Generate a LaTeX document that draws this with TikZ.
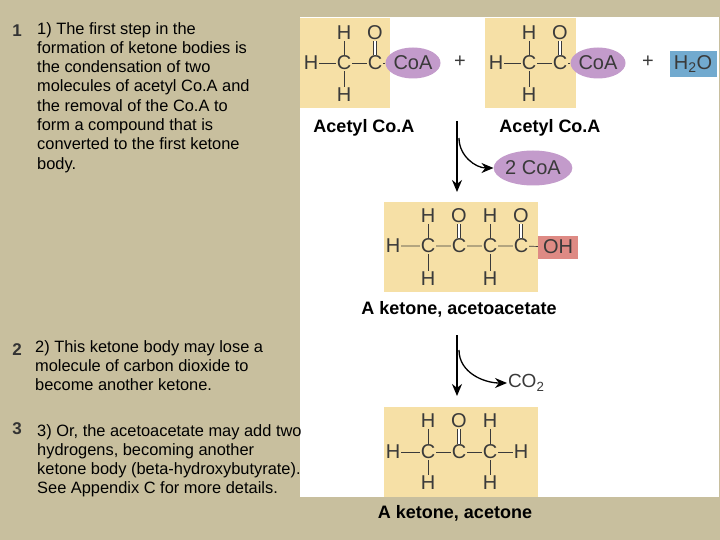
\documentclass[tikz,border=0pt]{standalone}
\usepackage{fontspec}
\setmainfont{Liberation Sans}
\usetikzlibrary{arrows.meta}
\usetikzlibrary{shapes.geometric}
\definecolor{tanbg}{HTML}{C8BF9E}
\definecolor{molbox}{HTML}{F6E0A6}
\definecolor{coapurple}{HTML}{C39BCB}
\definecolor{waterblue}{HTML}{72AACF}
\definecolor{ohred}{HTML}{DE8A84}
\definecolor{atomgray}{HTML}{3A3A3A}
\newcommand\stepfont{\fontsize{16.4}{19.3}\selectfont}
\newcommand\atomfont{\fontsize{20}{20}\selectfont}

\begin{document}
\begin{tikzpicture}[
    x=1pt, y=-1pt,
    atom/.style={
      font=\atomfont, text=atomgray, inner sep=0.8pt
    },
    bond/.style={
      draw=atomgray, line width=0.7pt
    },
    dbond/.style={
      bond, double, double distance=2.6pt, line width=0.6pt
    },
    arrowtip/.style={
      -{Stealth[length=12pt,width=10pt]}, line width=1.7pt
    },
    caption/.style={
      font=\fontsize{18}{18}\selectfont\bfseries
    },
    steptext/.style={
      font=\stepfont, align=left, anchor=north west, inner sep=0pt
    },
    numlabel/.style={
      font=\fontsize{17}{17}\selectfont\bfseries, text=black!80, anchor=north, inner sep=0pt
    }
  ]
    \fill[tanbg] (0,0) rectangle (720,540);
    \useasboundingbox (0,0) rectangle (720,540);
    \fill[white] (300,17) rectangle (719,497);

    % first acetyl CoA
    \fill[molbox] (300,18) rectangle (390,108);
    \node[atom] (AH1) at (311,63) {H};
    \node[atom] (AC1) at (344,63) {C};
    \node[atom] (AC2) at (375,63) {C};
    \node[atom] (AH2) at (344,33) {H};
    \node[atom] (AO1) at (375,33) {O};
    \node[atom] (AH3) at (344,95) {H};
    \node[atom, ellipse, fill=coapurple, minimum width=52pt, minimum height=31pt,
          inner sep=0pt] (CoaA) at (413,63) {CoA};
    \draw[bond] (AH1) -- (AC1);
    \draw[bond] (AC1) -- (AC2);
    \draw[bond] (AC2) -- (CoaA);
    \draw[bond] (AH2) -- (AC1);
    \draw[bond] (AC1) -- (AH3);
    \draw[dbond] (AO1) -- (AC2);

    % second acetyl CoA
    \fill[molbox] (485,18) rectangle (576,108);
    \node[atom] (BH1) at (496,63) {H};
    \node[atom] (BC1) at (529,63) {C};
    \node[atom] (BC2) at (560,63) {C};
    \node[atom] (BH2) at (529,33) {H};
    \node[atom] (BO1) at (560,33) {O};
    \node[atom] (BH3) at (529,95) {H};
    \node[atom, ellipse, fill=coapurple, minimum width=52pt, minimum height=31pt,
          inner sep=0pt] (CoaB) at (598,63) {CoA};
    \draw[bond] (BH1) -- (BC1);
    \draw[bond] (BC1) -- (BC2);
    \draw[bond] (BC2) -- (CoaB);
    \draw[bond] (BH2) -- (BC1);
    \draw[bond] (BC1) -- (BH3);
    \draw[dbond] (BO1) -- (BC2);

    \node[atom] (PlusA) at (460,62) {+};
    \node[atom] (PlusB) at (648,62) {+};
    \node[atom, fill=waterblue, minimum width=47pt, minimum height=26pt,
          inner sep=0pt] (Water) at (693,64) {H\textsubscript{2}O};

    \node[caption] (LblA) at (364,128) {Acetyl Co.A};
    \node[caption] (LblB) at (550,128) {Acetyl Co.A};

    % condensation arrow
    \coordinate (ArrA) at (457,121);
    \node[atom, ellipse, fill=coapurple, minimum width=62pt, minimum height=35pt,
          inner sep=0pt] (CoaOut) at (533,168) {2 CoA};
    \draw[arrowtip] (ArrA) -- (457,192);
    \draw[arrowtip, line width=1.3pt] (459,138) to[out=-90,in=180] (CoaOut.west);

    % acetoacetate
    \fill[molbox] (384,202) rectangle (538,292);
    \node[atom] (KH1) at (393,246) {H};
    \foreach \i/\x in {1/428,2/459,3/490,4/521} {
      \node[atom] (KC\i) at (\x,246) {C};
    }
    \node[atom] (KH2) at (428,216) {H};
    \node[atom] (KO1) at (459,216) {O};
    \node[atom] (KH3) at (490,216) {H};
    \node[atom] (KO2) at (521,216) {O};
    \node[atom] (KH4) at (428,279) {H};
    \node[atom] (KH5) at (490,279) {H};
    \node[atom, fill=ohred, minimum width=40pt, minimum height=23pt,
          inner sep=0pt] (KOH) at (558,247) {OH};
    \draw[bond] (KH1) -- (KC1) -- (KC2) -- (KC3) -- (KC4) -- (KOH);
    \draw[bond] (KH2) -- (KC1) -- (KH4);
    \draw[bond] (KH3) -- (KC3) -- (KH5);
    \draw[dbond] (KO1) -- (KC2);
    \draw[dbond] (KO2) -- (KC4);
    \node[caption] (LblK) at (459,309) {A ketone, acetoacetate};

    % decarboxylation arrow
    \coordinate (ArrB) at (457,335);
    \node[atom, anchor=west, font=\fontsize{19}{19}\selectfont] (CO2) at (507,383) {CO\textsubscript{2}};
    \draw[arrowtip] (ArrB) -- (457,396);
    \draw[arrowtip, line width=1.3pt] (459,350) to[out=-90,in=180] (CO2.west);

    % acetone
    \fill[molbox] (384,407) rectangle (538,497);
    \node[atom] (NH1) at (393,452) {H};
    \foreach \i/\x in {1/428,2/459,3/490} {
      \node[atom] (NC\i) at (\x,452) {C};
    }
    \node[atom] (NH6) at (521,452) {H};
    \node[atom] (NH2) at (428,421) {H};
    \node[atom] (NO1) at (459,421) {O};
    \node[atom] (NH3) at (490,421) {H};
    \node[atom] (NH4) at (428,483) {H};
    \node[atom] (NH5) at (490,483) {H};
    \draw[bond] (NH1) -- (NC1) -- (NC2) -- (NC3) -- (NH6);
    \draw[bond] (NH2) -- (NC1) -- (NH4);
    \draw[bond] (NH3) -- (NC3) -- (NH5);
    \draw[dbond] (NO1) -- (NC2);
    \node[caption] (LblN) at (455,513) {A ketone, acetone};

    % step texts
    \node[numlabel] (NumA) at (17,25) {1};
    \node[steptext] (StepA) at (37,22) {1) The first step in the\\formation of ketone bodies is\\the condensation of two\\molecules of acetyl Co.A and\\the removal of the Co.A to\\form a compound that is\\converted to the first ketone\\body.};
    \node[numlabel] (NumB) at (17,343) {2};
    \node[steptext] (StepB) at (35,340) {2) This ketone body may lose a\\molecule of carbon dioxide to\\become another ketone.};
    \node[numlabel] (NumC) at (17,422) {3};
    \node[steptext] (StepC) at (37,424) {3) Or, the acetoacetate may add two\\hydrogens, becoming another\\ketone body (beta-hydroxybutyrate).\\See Appendix C for more details.};
  \end{tikzpicture}
\end{document}
